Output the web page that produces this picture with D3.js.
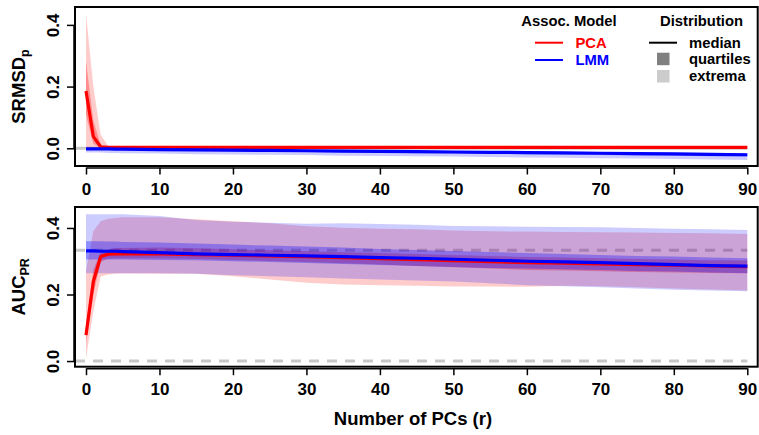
<!DOCTYPE html>
<html>
<head>
<meta charset="utf-8">
<script src="https://cdn.jsdelivr.net/npm/d3@7/dist/d3.min.js"></script>
<style>
  html, body { margin: 0; padding: 0; background: #fff; }
  svg { display: block; font-family: "Liberation Sans", Arial, Helvetica, sans-serif; font-weight: bold; }
</style>
</head>
<body>
<svg id="chart" width="759" height="435"></svg>
<script>
// ---------------- data ----------------
const rValues = [0,1,2,3,4,5,10,15,20,25,30,35,40,45,50,55,60,65,70,75,80,85,90];
const xTicks = [0,10,20,30,40,50,60,70,80,90];
const yTicks = [0.0,0.2,0.4];

// SRMSD_p panel
const pcaSrMed = [0.186,0.038,0.005,0.003,0.003,0.003,0.003,0.003,0.003,0.003,0.003,0.003,0.003,0.003,0.003,0.003,0.003,0.003,0.003,0.003,0.003,0.003,0.003];
const pcaSrQ1  = [0.108,0.015,0.002,0.002,0.002,0.002,0.002,0.002,0.002,0.002,0.002,0.002,0.002,0.002,0.002,0.002,0.002,0.002,0.002,0.002,0.002,0.002,0.002];
const pcaSrQ3  = [0.281,0.090,0.010,0.004,0.004,0.004,0.004,0.004,0.004,0.004,0.004,0.004,0.004,0.004,0.004,0.004,0.004,0.004,0.004,0.004,0.004,0.004,0.004];
const pcaSrMin = [0.000,0.000,0.000,0.001,0.001,0.001,0.001,0.001,0.001,0.001,0.001,0.001,0.001,0.001,0.001,0.001,0.001,0.001,0.001,0.001,0.001,0.001,0.001];
const pcaSrMax = [0.437,0.200,0.043,0.008,0.006,0.006,0.006,0.006,0.006,0.006,0.006,0.006,0.006,0.006,0.006,0.006,0.006,0.006,0.006,0.006,0.006,0.006,0.006];

const lmmSrMed = [-0.002,-0.002,-0.002,-0.002,-0.003,-0.003,-0.004,-0.005,-0.006,-0.007,-0.008,-0.009,-0.010,-0.011,-0.012,-0.013,-0.014,-0.015,-0.016,-0.017,-0.018,-0.020,-0.021];
const lmmSrQ1  = [-0.005,-0.005,-0.005,-0.005,-0.006,-0.006,-0.007,-0.009,-0.010,-0.011,-0.012,-0.013,-0.014,-0.016,-0.017,-0.018,-0.019,-0.020,-0.022,-0.023,-0.024,-0.026,-0.027];
const lmmSrQ3  = [0.000,0.000,0.000,0.000,-0.001,-0.001,-0.002,-0.003,-0.004,-0.005,-0.006,-0.007,-0.008,-0.009,-0.010,-0.011,-0.012,-0.013,-0.014,-0.015,-0.016,-0.017,-0.018];
const lmmSrMin = [-0.014,-0.014,-0.014,-0.015,-0.015,-0.016,-0.017,-0.019,-0.020,-0.021,-0.022,-0.024,-0.025,-0.026,-0.027,-0.028,-0.030,-0.031,-0.032,-0.033,-0.035,-0.036,-0.038];
const lmmSrMax = [0.002,0.002,0.002,0.002,0.001,0.001,0.000,-0.001,-0.002,-0.003,-0.004,-0.005,-0.006,-0.007,-0.008,-0.009,-0.010,-0.011,-0.012,-0.013,-0.014,-0.015,-0.016];

// AUC_PR panel
const lmmAucMed = [0.331,0.331,0.330,0.330,0.330,0.329,0.326,0.322,0.320,0.318,0.316,0.314,0.311,0.309,0.306,0.303,0.300,0.298,0.296,0.293,0.290,0.287,0.285];
const lmmAucQ1  = [0.305,0.305,0.305,0.305,0.305,0.305,0.304,0.303,0.300,0.298,0.295,0.292,0.289,0.286,0.283,0.280,0.278,0.276,0.274,0.271,0.269,0.266,0.264];
const lmmAucQ3  = [0.360,0.360,0.360,0.359,0.359,0.358,0.356,0.353,0.350,0.347,0.344,0.341,0.337,0.334,0.331,0.328,0.325,0.322,0.319,0.316,0.314,0.311,0.309];
const lmmAucMin = [0.264,0.264,0.264,0.264,0.264,0.264,0.264,0.262,0.258,0.255,0.252,0.248,0.245,0.242,0.239,0.234,0.228,0.225,0.222,0.218,0.214,0.212,0.210];
const lmmAucMax = [0.441,0.441,0.441,0.441,0.441,0.441,0.436,0.424,0.419,0.416,0.413,0.414,0.412,0.410,0.406,0.405,0.404,0.403,0.402,0.400,0.398,0.396,0.394];

const pcaAucMed = [0.078,0.239,0.314,0.321,0.322,0.322,0.322,0.320,0.318,0.316,0.314,0.311,0.308,0.305,0.302,0.299,0.296,0.294,0.292,0.290,0.288,0.286,0.284];
const pcaAucQ1  = [0.055,0.200,0.298,0.308,0.309,0.309,0.309,0.307,0.304,0.301,0.298,0.294,0.290,0.286,0.282,0.278,0.274,0.272,0.270,0.268,0.266,0.265,0.264];
const pcaAucQ3  = [0.105,0.275,0.328,0.336,0.340,0.340,0.341,0.339,0.336,0.333,0.330,0.327,0.325,0.322,0.319,0.316,0.313,0.311,0.309,0.307,0.305,0.303,0.302];
const pcaAucMin = [0.008,0.150,0.254,0.260,0.262,0.263,0.262,0.262,0.255,0.245,0.235,0.230,0.228,0.226,0.224,0.224,0.223,0.226,0.225,0.222,0.218,0.215,0.212];
const pcaAucMax = [0.270,0.390,0.420,0.428,0.430,0.432,0.432,0.426,0.420,0.414,0.405,0.401,0.398,0.396,0.392,0.390,0.389,0.388,0.387,0.386,0.385,0.384,0.382];

const models = ["PCA", "LMM"];
const modelColors = ["#ff0000", "#0000ff"];
const distLabels = ["median", "quartiles", "extrema"];

// ---------------- drawing ----------------
const svg = d3.select("#chart");
const boxLeft = 75, boxRight = 757.7;
const x = d3.scaleLinear().domain([0, 90]).range([86, 747.3]);

function fill(c, a) { const col = d3.color(c); col.opacity = a; return col.toString(); }

function panel(cfg) {
  const y = d3.scaleLinear().domain(cfg.domain).range([cfg.bottom, cfg.top]);
  const g = svg.append("g");

  // reference lines
  cfg.refs.forEach(rf => {
    g.append("line")
      .attr("x1", boxLeft).attr("x2", x(90))
      .attr("y1", y(rf.v)).attr("y2", y(rf.v))
      .attr("stroke", "#c8c8c8").attr("stroke-width", 3)
      .attr("stroke-dasharray", rf.dash ? "10,8" : null);
  });

  const bandArea = (lo, hi) => d3.area()
    .x((d, i) => x(rValues[i]))
    .y0((d, i) => y(lo[i]))
    .y1((d, i) => y(hi[i]));
  const medLine = d3.line().x((d, i) => x(rValues[i])).y(d => y(d));

  cfg.series.forEach((s, k) => {
    g.append("path").datum(s.min).attr("d", bandArea(s.min, s.max)).attr("fill", fill(modelColors[k], 0.2));
    g.append("path").datum(s.q1).attr("d", bandArea(s.q1, s.q3)).attr("fill", fill(modelColors[k], 0.3));
  });
  cfg.series.forEach((s, k) => {
    g.append("path").datum(s.med).attr("d", medLine).attr("fill", "none")
      .attr("stroke", modelColors[k]).attr("stroke-width", 3.2).attr("stroke-linejoin", "round");
  });

  // box
  g.append("rect").attr("x", boxLeft).attr("y", cfg.top)
    .attr("width", boxRight - boxLeft).attr("height", cfg.bottom - cfg.top)
    .attr("fill", "none").attr("stroke", "#000").attr("stroke-width", 2);

  // x axis
  const xa = g.append("g").attr("transform", `translate(0,${cfg.bottom + 1.5})`)
    .call(d3.axisBottom(x).tickValues(xTicks).tickSize(7).tickSizeOuter(0).tickPadding(8).tickFormat(d3.format("d")));
  xa.select(".domain").attr("stroke-width", 1.5);
  xa.selectAll(".tick line").attr("stroke-width", 1.5);
  xa.selectAll("text").attr("font-size", 17).attr("font-weight", "bold").attr("fill", "#000")
    .attr("font-family", "'Liberation Sans', Arial, sans-serif");

  // y axis
  const ya = g.append("g").attr("transform", `translate(${boxLeft - 1},0)`)
    .call(d3.axisLeft(y).tickValues(yTicks).tickSize(7).tickSizeOuter(0).tickFormat(d3.format(".1f")));
  ya.select(".domain").remove();
  ya.append("line").attr("x1", 0).attr("x2", 0).attr("y1", y(0)).attr("y2", y(0.4))
    .attr("stroke", "#000").attr("stroke-width", 1.5);
  ya.selectAll(".tick line").attr("stroke-width", 1.5);
  ya.selectAll("text")
    .attr("x", null).attr("dy", null)
    .attr("transform", "translate(-15,0) rotate(-90)")
    .attr("text-anchor", "middle")
    .attr("font-size", 17).attr("font-weight", "bold").attr("fill", "#000")
    .attr("font-family", "'Liberation Sans', Arial, sans-serif");

  // y title
  const t = svg.append("text")
    .attr("transform", `translate(25,${(cfg.top + cfg.bottom) / 2}) rotate(-90)`)
    .attr("text-anchor", "middle").attr("font-size", 18.5);
  t.append("tspan").text(cfg.title);
  t.append("tspan").attr("font-size", 12.5).attr("dy", 4).text(cfg.sub);
  return y;
}

panel({
  top: 7, bottom: 166, domain: [-0.0574, 0.458],
  refs: [{v: 0, dash: false}],
  title: "SRMSD", sub: "p",
  series: [
    {med: pcaSrMed, q1: pcaSrQ1, q3: pcaSrQ3, min: pcaSrMin, max: pcaSrMax},
    {med: lmmSrMed, q1: lmmSrQ1, q3: lmmSrQ3, min: lmmSrMin, max: lmmSrMax}
  ]
});

panel({
  top: 207, bottom: 366.7, domain: [-0.017, 0.463],
  refs: [{v: 0, dash: true}, {v: 1/3, dash: true}],
  title: "AUC", sub: "PR",
  series: [
    {med: pcaAucMed, q1: pcaAucQ1, q3: pcaAucQ3, min: pcaAucMin, max: pcaAucMax},
    {med: lmmAucMed, q1: lmmAucQ1, q3: lmmAucQ3, min: lmmAucMin, max: lmmAucMax}
  ]
});

// x title
svg.append("text").attr("x", 413).attr("y", 424.5)
  .attr("text-anchor", "middle").attr("font-size", 18.5).text("Number of PCs (r)");

// legend
const lg = svg.append("g").attr("font-size", 14.8);
lg.append("text").attr("x", 569).attr("y", 26).attr("text-anchor", "middle").text("Assoc. Model");
lg.append("text").attr("x", 701.5).attr("y", 26).attr("text-anchor", "middle").text("Distribution");
models.forEach((m, i) => {
  const yy = 42.7 + i * 17.3;
  lg.append("line").attr("x1", 535).attr("x2", 563).attr("y1", yy).attr("y2", yy)
    .attr("stroke", modelColors[i]).attr("stroke-width", 2);
  lg.append("text").attr("x", 575.5).attr("y", yy + 5.3).attr("fill", modelColors[i]).text(m);
});
const distY = [42.7, 59, 76.3];
lg.append("line").attr("x1", 649).attr("x2", 677).attr("y1", distY[0]).attr("y2", distY[0])
  .attr("stroke", "#000").attr("stroke-width", 2);
lg.append("rect").attr("x", 657).attr("y", distY[1] - 6.3).attr("width", 12.5).attr("height", 12.5).attr("fill", "#808080");
lg.append("rect").attr("x", 657).attr("y", distY[2] - 6.3).attr("width", 12.5).attr("height", 12.5).attr("fill", "#cccccc");
distLabels.forEach((d, i) => {
  lg.append("text").attr("x", 689).attr("y", distY[i] + 5).text(d);
});
</script>
</body>
</html>
